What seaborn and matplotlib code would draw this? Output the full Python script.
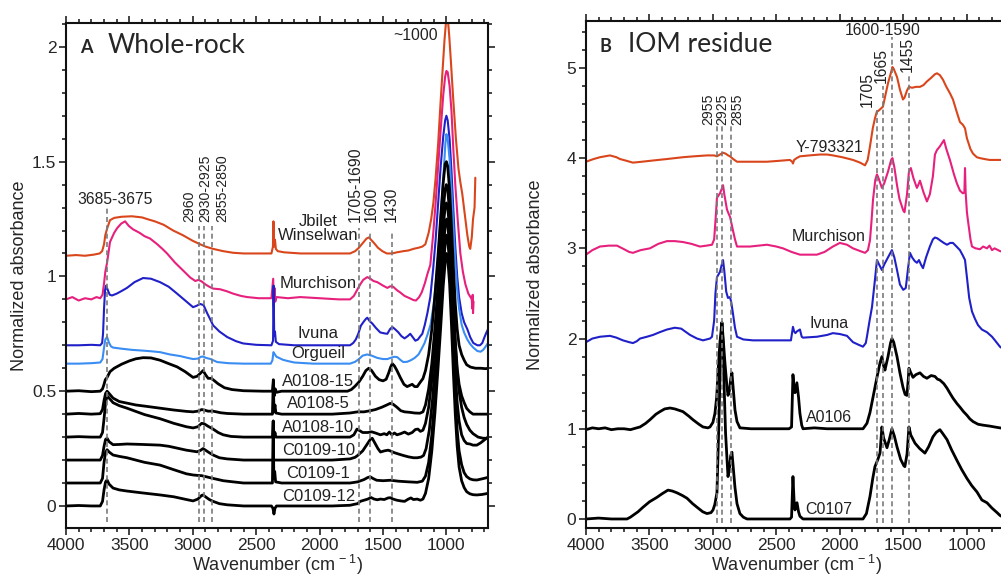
import matplotlib
matplotlib.use("Agg")
import matplotlib.pyplot as plt
from matplotlib import font_manager as fm
import seaborn as sns
import pandas as pd
from matplotlib.ticker import MultipleLocator, FuncFormatter

# ---------------- Panel A: whole-rock spectra (wavenumber cm-1, absorbance) ----------------
jbilet = [(4000,1.09),(3920,1.093),(3850,1.09),(3780,1.095),(3735,1.10),(3715,1.11),(3700,1.14),(3690,1.18),(3675,1.21),(3653,1.245),(3620,1.255),(3560,1.26),(3480,1.262),(3400,1.257),(3361,1.25),(3300,1.24),(3230,1.225),(3155,1.20),(3080,1.18),(3000,1.155),(2942,1.14),(2900,1.13),(2840,1.12),(2760,1.11),(2682,1.103),(2600,1.10),(2500,1.10),(2380,1.10),(2368,1.13),(2364,1.24),(2358,1.13),(2352,1.16),(2345,1.12),(2330,1.11),(2280,1.105),(2150,1.10),(2000,1.10),(1850,1.10),(1760,1.10),(1720,1.11),(1690,1.125),(1660,1.145),(1630,1.165),(1610,1.17),(1595,1.16),(1570,1.145),(1540,1.125),(1505,1.11),(1470,1.10),(1430,1.10),(1390,1.105),(1340,1.11),(1300,1.113),(1260,1.12),(1220,1.125),(1190,1.13),(1166,1.14),(1140,1.19),(1120,1.25),(1103,1.32),(1085,1.43),(1065,1.58),(1048,1.74),(1030,1.90),(1015,2.03),(1000,2.13),(990,2.13),(978,2.05),(965,1.94),(946,1.77),(925,1.60),(905,1.47),(890,1.41),(875,1.36),(855,1.27),(835,1.18),(820,1.13),(812,1.12),(800,1.17),(790,1.25),(778,1.30),(772,1.43)]
murch_a = [(4000,0.90),(3950,0.91),(3900,0.895),(3850,0.905),(3800,0.90),(3760,0.91),(3730,0.905),(3712,0.92),(3700,0.97),(3690,1.02),(3676,1.06),(3653,1.15),(3620,1.19),(3597,1.21),(3565,1.23),(3534,1.24),(3505,1.22),(3471,1.205),(3420,1.19),(3380,1.175),(3337,1.165),(3280,1.14),(3240,1.12),(3203,1.10),(3140,1.06),(3077,1.026),(3020,0.995),(2980,0.98),(2955,0.985),(2930,0.978),(2900,0.965),(2870,0.955),(2840,0.947),(2784,0.944),(2730,0.935),(2682,0.925),(2620,0.915),(2571,0.91),(2480,0.905),(2380,0.905),(2366,0.99),(2362,0.87),(2356,0.95),(2350,0.89),(2340,0.91),(2250,0.905),(2153,0.91),(2000,0.905),(1850,0.90),(1760,0.90),(1730,0.915),(1700,0.945),(1680,0.965),(1656,0.985),(1624,0.997),(1600,0.99),(1575,0.98),(1545,0.975),(1500,0.96),(1466,0.95),(1443,0.957),(1420,0.955),(1390,0.94),(1364,0.93),(1330,0.915),(1290,0.905),(1260,0.897),(1240,0.895),(1215,0.91),(1195,0.93),(1170,0.97),(1150,1.01),(1127,1.05),(1105,1.18),(1085,1.32),(1065,1.48),(1045,1.64),(1025,1.79),(1010,1.87),(1000,1.895),(990,1.89),(975,1.83),(960,1.72),(946,1.56),(930,1.40),(910,1.24),(890,1.10),(870,1.02),(850,0.965),(827,0.925),(810,0.91),(800,0.90),(796,0.86),(793,0.92),(790,0.84),(786,0.89)]
ivuna_a = [(4000,0.70),(3900,0.70),(3800,0.702),(3730,0.70),(3715,0.71),(3708,0.75),(3700,0.86),(3692,0.94),(3684,0.96),(3670,0.94),(3655,0.92),(3637,0.917),(3600,0.925),(3560,0.937),(3519,0.95),(3460,0.975),(3392,0.993),(3330,0.99),(3258,0.975),(3190,0.955),(3124,0.925),(3060,0.895),(2998,0.866),(2970,0.872),(2942,0.88),(2915,0.875),(2887,0.84),(2860,0.81),(2840,0.787),(2790,0.76),(2729,0.736),(2660,0.718),(2603,0.708),(2500,0.702),(2380,0.70),(2367,0.72),(2363,0.96),(2358,0.74),(2352,0.76),(2345,0.715),(2320,0.705),(2200,0.70),(2000,0.70),(1850,0.70),(1760,0.70),(1735,0.71),(1715,0.725),(1695,0.75),(1675,0.785),(1656,0.80),(1635,0.815),(1624,0.82),(1605,0.805),(1585,0.795),(1555,0.775),(1522,0.756),(1490,0.752),(1466,0.75),(1445,0.77),(1427,0.78),(1405,0.77),(1380,0.757),(1355,0.74),(1330,0.73),(1305,0.74),(1285,0.75),(1265,0.735),(1245,0.72),(1225,0.725),(1205,0.74),(1190,0.75),(1170,0.79),(1150,0.84),(1127,0.91),(1105,1.03),(1085,1.16),(1065,1.32),(1045,1.48),(1025,1.61),(1010,1.68),(1000,1.70),(990,1.68),(975,1.60),(960,1.46),(945,1.29),(930,1.13),(915,1.00),(900,0.91),(880,0.84),(860,0.80),(835,0.77),(812,0.735),(788,0.71),(756,0.70),(735,0.70),(717,0.71),(700,0.735),(685,0.755),(672,0.77)]
orgueil = [(4000,0.62),(3900,0.62),(3800,0.622),(3730,0.625),(3712,0.64),(3700,0.69),(3690,0.725),(3676,0.736),(3660,0.71),(3645,0.695),(3629,0.69),(3560,0.685),(3480,0.68),(3400,0.677),(3330,0.674),(3258,0.67),(3180,0.66),(3100,0.653),(3040,0.645),(2998,0.64),(2960,0.642),(2935,0.65),(2919,0.651),(2895,0.645),(2860,0.64),(2840,0.635),(2808,0.627),(2720,0.622),(2600,0.62),(2450,0.62),(2385,0.62),(2372,0.635),(2364,0.67),(2355,0.662),(2340,0.65),(2320,0.645),(2290,0.637),(2256,0.632),(2200,0.625),(2050,0.62),(1900,0.62),(1760,0.62),(1720,0.628),(1690,0.64),(1660,0.655),(1624,0.66),(1590,0.655),(1545,0.645),(1500,0.64),(1466,0.64),(1440,0.645),(1410,0.65),(1387,0.648),(1360,0.635),(1340,0.627),(1310,0.628),(1280,0.635),(1250,0.645),(1220,0.66),(1195,0.685),(1172,0.71),(1150,0.745),(1125,0.79),(1100,0.88),(1080,0.99),(1060,1.13),(1040,1.30),(1020,1.47),(1008,1.58),(1000,1.62),(990,1.60),(975,1.51),(960,1.37),(945,1.21),(930,1.06),(915,0.94),(900,0.86),(880,0.79),(860,0.755),(835,0.725),(812,0.705),(788,0.69),(756,0.675),(730,0.672),(710,0.68),(690,0.695),(672,0.71)]
a0108_15 = [(4000,0.50),(3900,0.502),(3800,0.498),(3730,0.50),(3712,0.51),(3700,0.53),(3690,0.55),(3676,0.56),(3653,0.585),(3620,0.60),(3560,0.618),(3500,0.632),(3450,0.641),(3392,0.646),(3330,0.645),(3258,0.635),(3190,0.62),(3124,0.606),(3060,0.585),(2998,0.56),(2966,0.565),(2940,0.578),(2919,0.59),(2900,0.572),(2879,0.556),(2855,0.556),(2840,0.55),(2800,0.532),(2750,0.515),(2690,0.507),(2600,0.502),(2450,0.50),(2372,0.50),(2365,0.54),(2358,0.48),(2350,0.51),(2340,0.495),(2300,0.50),(2100,0.50),(1900,0.50),(1780,0.50),(1750,0.507),(1720,0.522),(1690,0.54),(1660,0.565),(1635,0.59),(1612,0.60),(1590,0.59),(1560,0.565),(1530,0.55),(1500,0.545),(1475,0.552),(1455,0.58),(1440,0.605),(1427,0.62),(1410,0.61),(1390,0.59),(1364,0.56),(1335,0.53),(1310,0.52),(1290,0.525),(1270,0.53),(1250,0.52),(1230,0.52),(1205,0.54),(1185,0.555),(1165,0.59),(1140,0.66),(1115,0.77),(1090,0.92),(1065,1.10),(1045,1.26),(1025,1.41),(1010,1.49),(1000,1.50),(990,1.48),(975,1.38),(960,1.22),(945,1.04),(930,0.88),(915,0.77),(900,0.70),(880,0.66),(860,0.635),(840,0.615),(810,0.605),(770,0.60),(730,0.60),(690,0.598),(672,0.60)]
a0108_5 = [(4000,0.40),(3900,0.403),(3800,0.40),(3730,0.402),(3712,0.42),(3700,0.46),(3688,0.49),(3676,0.50),(3660,0.49),(3629,0.47),(3580,0.455),(3519,0.448),(3450,0.44),(3380,0.435),(3258,0.426),(3150,0.418),(3050,0.412),(2998,0.41),(2960,0.413),(2930,0.42),(2910,0.418),(2880,0.413),(2840,0.413),(2780,0.406),(2729,0.403),(2600,0.40),(2450,0.40),(2372,0.40),(2365,0.55),(2360,0.41),(2352,0.44),(2345,0.405),(2300,0.40),(2100,0.40),(1900,0.40),(1760,0.405),(1700,0.41),(1650,0.41),(1600,0.415),(1560,0.42),(1510,0.43),(1470,0.44),(1443,0.447),(1420,0.443),(1390,0.43),(1360,0.415),(1330,0.41),(1290,0.408),(1250,0.405),(1210,0.404),(1185,0.41),(1165,0.44),(1140,0.51),(1115,0.62),(1090,0.78),(1065,0.97),(1045,1.13),(1025,1.29),(1010,1.38),(1000,1.40),(990,1.38),(975,1.28),(960,1.10),(945,0.90),(930,0.72),(915,0.60),(900,0.53),(880,0.48),(860,0.45),(840,0.425),(815,0.41),(790,0.40),(750,0.40),(710,0.40),(672,0.40)]
a0108_10 = [(4000,0.30),(3900,0.302),(3800,0.30),(3730,0.30),(3712,0.32),(3700,0.38),(3688,0.45),(3676,0.48),(3660,0.47),(3629,0.45),(3580,0.437),(3519,0.426),(3450,0.412),(3380,0.398),(3258,0.38),(3150,0.36),(3050,0.345),(2998,0.34),(2960,0.345),(2930,0.36),(2910,0.358),(2879,0.347),(2840,0.335),(2800,0.32),(2760,0.31),(2700,0.303),(2600,0.30),(2450,0.30),(2372,0.30),(2365,0.37),(2360,0.30),(2352,0.32),(2345,0.30),(2300,0.30),(2100,0.30),(1900,0.30),(1760,0.30),(1730,0.31),(1705,0.335),(1690,0.33),(1660,0.32),(1620,0.32),(1590,0.323),(1560,0.318),(1520,0.31),(1490,0.315),(1470,0.31),(1450,0.322),(1430,0.31),(1410,0.318),(1390,0.31),(1360,0.315),(1330,0.322),(1300,0.313),(1270,0.32),(1245,0.333),(1225,0.335),(1205,0.325),(1185,0.33),(1165,0.36),(1140,0.43),(1115,0.55),(1090,0.72),(1065,0.91),(1045,1.07),(1025,1.22),(1010,1.30),(1000,1.32),(990,1.30),(975,1.21),(960,1.05),(945,0.87),(930,0.70),(915,0.58),(900,0.50),(880,0.43),(860,0.385),(840,0.355),(815,0.33),(790,0.315),(750,0.30),(710,0.295),(672,0.295)]
c0109_10 = [(4000,0.20),(3900,0.20),(3800,0.20),(3730,0.20),(3712,0.22),(3700,0.26),(3688,0.29),(3676,0.295),(3660,0.28),(3629,0.267),(3580,0.268),(3519,0.27),(3400,0.268),(3258,0.265),(3190,0.26),(3124,0.252),(3050,0.243),(2966,0.236),(2940,0.242),(2919,0.25),(2900,0.243),(2870,0.232),(2840,0.222),(2790,0.21),(2729,0.205),(2600,0.20),(2450,0.20),(2372,0.20),(2300,0.20),(2100,0.20),(1900,0.20),(1760,0.205),(1720,0.212),(1700,0.22),(1660,0.24),(1630,0.265),(1600,0.29),(1585,0.295),(1565,0.275),(1540,0.25),(1520,0.235),(1490,0.24),(1460,0.243),(1443,0.24),(1410,0.232),(1370,0.225),(1340,0.22),(1300,0.214),(1260,0.21),(1230,0.21),(1200,0.213),(1180,0.22),(1160,0.25),(1135,0.33),(1110,0.46),(1085,0.64),(1060,0.84),(1040,1.00),(1020,1.16),(1005,1.24),(998,1.25),(988,1.22),(975,1.12),(960,0.95),(945,0.76),(930,0.58),(915,0.45),(900,0.37),(880,0.31),(860,0.285),(840,0.272),(815,0.27),(790,0.265),(760,0.265),(730,0.275),(700,0.288),(672,0.30)]
c0109_1 = [(4000,0.10),(3900,0.10),(3800,0.10),(3730,0.10),(3712,0.12),(3700,0.19),(3688,0.235),(3676,0.245),(3660,0.235),(3629,0.222),(3580,0.216),(3519,0.21),(3450,0.20),(3380,0.19),(3258,0.178),(3150,0.158),(3050,0.14),(2998,0.135),(2960,0.133),(2930,0.132),(2900,0.128),(2840,0.12),(2760,0.11),(2682,0.105),(2600,0.10),(2450,0.10),(2372,0.10),(2366,0.37),(2361,0.12),(2354,0.15),(2347,0.105),(2300,0.10),(2100,0.10),(1900,0.10),(1760,0.10),(1700,0.105),(1650,0.115),(1620,0.124),(1600,0.127),(1580,0.12),(1550,0.112),(1500,0.11),(1440,0.112),(1380,0.108),(1300,0.105),(1230,0.103),(1190,0.108),(1165,0.13),(1140,0.19),(1115,0.31),(1090,0.48),(1065,0.68),(1045,0.86),(1025,1.04),(1010,1.14),(1000,1.18),(990,1.16),(975,1.06),(960,0.88),(945,0.66),(930,0.47),(915,0.33),(900,0.24),(880,0.18),(860,0.145),(840,0.128),(815,0.118),(790,0.114),(760,0.113),(720,0.118),(690,0.122),(672,0.125)]
c0109_12 = [(4000,0.0),(3900,0.002),(3800,0.0),(3730,0.0),(3712,0.02),(3700,0.07),(3688,0.105),(3676,0.113),(3660,0.095),(3629,0.078),(3580,0.07),(3519,0.065),(3400,0.057),(3258,0.048),(3150,0.04),(3050,0.028),(2998,0.022),(2960,0.03),(2930,0.046),(2919,0.048),(2900,0.04),(2870,0.028),(2840,0.02),(2790,0.01),(2729,0.005),(2600,0.0),(2450,0.0),(2380,0.0),(2368,-0.01),(2360,-0.035),(2352,-0.01),(2340,0.0),(2100,0.0),(1900,0.0),(1760,0.003),(1720,0.008),(1700,0.01),(1680,0.02),(1650,0.025),(1620,0.03),(1595,0.037),(1570,0.03),(1545,0.027),(1520,0.03),(1490,0.028),(1460,0.035),(1443,0.036),(1420,0.03),(1390,0.025),(1360,0.022),(1330,0.02),(1300,0.03),(1280,0.035),(1260,0.028),(1230,0.03),(1205,0.025),(1185,0.03),(1165,0.055),(1140,0.12),(1115,0.24),(1090,0.41),(1065,0.61),(1045,0.78),(1025,0.96),(1010,1.06),(1000,1.10),(990,1.08),(975,0.97),(960,0.79),(945,0.58),(930,0.40),(915,0.26),(900,0.17),(880,0.11),(860,0.08),(840,0.062),(815,0.053),(790,0.049),(760,0.048),(720,0.05),(690,0.053),(672,0.055)]

# ---------------- Panel B: IOM residue spectra ----------------
y793321 = [(4000,3.96),(3940,3.99),(3890,4.01),(3811,4.03),(3760,4.01),(3732,3.99),(3680,3.97),(3630,3.95),(3560,3.96),(3496,3.97),(3430,3.98),(3362,3.99),(3300,4.0),(3236,4.01),(3150,4.02),(3047,4.03),(2990,4.03),(2968,4.02),(2944,4.04),(2920,4.06),(2900,4.05),(2880,4.03),(2865,4.02),(2840,3.99),(2810,3.96),(2740,3.96),(2660,3.96),(2574,3.96),(2480,3.97),(2393,3.98),(2375,3.96),(2369,3.94),(2360,3.98),(2340,4.0),(2314,4.02),(2240,4.03),(2156,4.04),(2100,4.04),(2054,4.03),(1980,4.01),(1896,3.98),(1840,3.95),(1801,3.92),(1780,3.98),(1762,4.13),(1740,4.33),(1723,4.44),(1707,4.52),(1699,4.52),(1683,4.54),(1660,4.57),(1640,4.70),(1620,4.83),(1600,4.93),(1585,5.01),(1575,4.99),(1549,4.90),(1526,4.76),(1502,4.65),(1490,4.67),(1470,4.75),(1455,4.79),(1430,4.78),(1400,4.79),(1368,4.79),(1340,4.81),(1313,4.85),(1280,4.89),(1250,4.93),(1234,4.94),(1211,4.92),(1187,4.87),(1160,4.79),(1132,4.72),(1108,4.65),(1080,4.52),(1053,4.40),(1030,4.37),(1013,4.33),(998,4.22),(970,4.10),(950,4.05),(920,4.01),(895,4.00),(860,3.99),(820,3.98),(780,3.98),(738,3.98),(690,3.98)]
murch_b = [(4000,2.93),(3950,2.98),(3890,3.02),(3820,3.03),(3756,3.03),(3700,2.99),(3660,2.96),(3630,2.95),(3570,2.98),(3496,3.0),(3430,3.05),(3362,3.08),(3300,3.08),(3236,3.07),(3170,3.05),(3102,3.02),(3050,3.03),(3007,3.04),(2990,3.10),(2975,3.40),(2968,3.56),(2944,3.61),(2930,3.66),(2920,3.70),(2910,3.60),(2889,3.43),(2875,3.38),(2865,3.35),(2842,3.20),(2826,3.10),(2810,3.02),(2760,3.02),(2708,3.02),(2640,3.03),(2574,3.04),(2500,3.02),(2448,3.0),(2380,2.96),(2314,2.93),(2250,2.93),(2180,2.93),(2120,2.96),(2054,3.02),(2000,3.06),(1943,3.04),(1896,3.0),(1840,2.97),(1801,2.95),(1778,2.98),(1762,3.09),(1750,3.3),(1738,3.54),(1720,3.76),(1707,3.82),(1695,3.78),(1668,3.67),(1650,3.72),(1620,3.85),(1595,3.98),(1585,4.0),(1570,3.90),(1549,3.70),(1530,3.55),(1500,3.42),(1490,3.40),(1470,3.60),(1455,3.85),(1440,3.89),(1420,3.78),(1400,3.70),(1392,3.67),(1376,3.72),(1368,3.75),(1340,3.62),(1313,3.52),(1290,3.60),(1266,3.80),(1250,4.04),(1234,4.09),(1211,4.13),(1179,4.20),(1160,4.10),(1132,3.98),(1100,3.82),(1077,3.72),(1053,3.64),(1030,3.61),(1018,3.62),(1013,3.89),(1008,3.62),(998,3.40),(990,3.31),(970,3.10),(958,3.02),(930,3.00),(895,2.99),(870,3.02),(840,3.0),(820,3.03),(800,2.98),(780,3.0),(738,2.97),(690,2.95)]
ivuna_b = [(4000,1.96),(3950,2.0),(3890,2.02),(3811,2.03),(3760,2.01),(3709,1.98),(3660,1.96),(3630,1.95),(3600,1.97),(3574,2.0),(3520,2.02),(3472,2.04),(3420,2.07),(3362,2.10),(3300,2.12),(3250,2.11),(3180,2.04),(3125,2.0),(3078,1.98),(3023,2.0),(3007,2.02),(2990,2.2),(2980,2.5),(2968,2.68),(2944,2.74),(2930,2.82),(2920,2.87),(2910,2.75),(2895,2.52),(2881,2.45),(2865,2.46),(2855,2.40),(2842,2.28),(2826,2.12),(2810,2.02),(2760,1.99),(2684,1.98),(2574,1.98),(2448,1.98),(2385,1.98),(2369,2.13),(2360,2.08),(2350,2.06),(2337,2.08),(2314,2.10),(2300,2.02),(2290,2.01),(2180,2.02),(2100,2.04),(2054,2.06),(1999,2.05),(1943,2.03),(1896,1.96),(1850,1.93),(1817,1.91),(1795,1.95),(1786,2.02),(1765,2.20),(1746,2.35),(1723,2.65),(1707,2.87),(1690,2.82),(1668,2.76),(1650,2.82),(1620,2.90),(1589,2.98),(1570,2.90),(1549,2.76),(1526,2.60),(1500,2.54),(1480,2.56),(1460,2.80),(1447,2.95),(1430,2.90),(1410,2.86),(1392,2.84),(1376,2.87),(1360,2.82),(1344,2.78),(1320,2.90),(1290,3.02),(1266,3.10),(1250,3.12),(1230,3.11),(1211,3.09),(1180,3.06),(1155,3.04),(1130,3.06),(1108,3.06),(1080,3.02),(1053,2.98),(1030,2.92),(1013,2.87),(998,2.68),(980,2.45),(958,2.30),(935,2.22),(911,2.15),(880,2.10),(840,2.07),(800,2.02),(777,1.98),(738,1.91),(690,1.86)]
a0106 = [(4000,0.99),(3950,1.01),(3900,1.0),(3850,1.01),(3800,0.99),(3750,1.0),(3700,1.0),(3650,0.99),(3600,1.01),(3574,1.02),(3530,1.06),(3496,1.10),(3450,1.16),(3417,1.19),(3380,1.22),(3338,1.23),(3300,1.22),(3236,1.19),(3190,1.14),(3157,1.10),(3110,1.05),(3078,1.02),(3040,1.01),(3023,1.02),(3000,1.07),(2984,1.17),(2970,1.35),(2960,1.62),(2945,1.95),(2929,2.18),(2920,2.02),(2905,1.73),(2890,1.48),(2881,1.37),(2870,1.42),(2860,1.55),(2850,1.62),(2840,1.45),(2826,1.21),(2810,1.08),(2787,1.01),(2700,1.0),(2600,1.0),(2500,1.0),(2400,1.0),(2380,1.02),(2369,1.60),(2360,1.45),(2353,1.40),(2338,1.51),(2325,1.35),(2314,1.17),(2300,1.04),(2290,1.0),(2200,1.01),(2100,1.0),(2000,1.0),(1900,1.0),(1817,1.0),(1786,1.06),(1762,1.18),(1738,1.35),(1710,1.55),(1683,1.73),(1668,1.80),(1655,1.70),(1644,1.65),(1620,1.80),(1600,1.95),(1589,2.0),(1575,1.96),(1549,1.80),(1526,1.62),(1502,1.46),(1485,1.38),(1471,1.37),(1460,1.55),(1455,1.67),(1440,1.62),(1423,1.57),(1400,1.60),(1368,1.62),(1340,1.58),(1313,1.56),(1280,1.59),(1250,1.58),(1230,1.55),(1211,1.54),(1180,1.50),(1155,1.45),(1130,1.39),(1108,1.34),(1077,1.28),(1053,1.24),(1025,1.19),(998,1.15),(975,1.11),(950,1.08),(910,1.05),(871,1.04),(820,1.03),(780,1.02),(738,1.01),(690,1.0)]
c0107 = [(4000,0.0),(3900,0.01),(3800,0.0),(3700,0.0),(3677,0.0),(3650,0.02),(3630,0.04),(3590,0.08),(3551,0.13),(3500,0.19),(3441,0.24),(3400,0.28),(3354,0.32),(3320,0.31),(3283,0.29),(3240,0.26),(3204,0.23),(3160,0.17),(3125,0.13),(3080,0.08),(3047,0.06),(3015,0.07),(2999,0.10),(2985,0.16),(2968,0.29),(2952,1.10),(2940,1.80),(2929,2.17),(2920,1.95),(2913,1.54),(2900,0.95),(2881,0.47),(2870,0.55),(2860,0.70),(2850,0.74),(2840,0.58),(2826,0.35),(2810,0.17),(2787,0.06),(2760,0.02),(2731,0.0),(2600,0.0),(2500,0.0),(2393,0.0),(2380,0.02),(2369,0.47),(2360,0.2),(2353,0.10),(2345,0.17),(2337,0.18),(2325,0.08),(2314,0.03),(2290,0.0),(2100,0.0),(1900,0.0),(1817,0.0),(1790,0.06),(1762,0.25),(1740,0.45),(1723,0.58),(1700,0.66),(1683,0.73),(1668,1.02),(1655,0.90),(1628,0.79),(1610,0.88),(1589,1.0),(1570,0.92),(1549,0.80),(1520,0.66),(1495,0.59),(1487,0.58),(1470,0.72),(1455,1.02),(1440,0.93),(1407,0.84),(1370,0.78),(1329,0.73),(1300,0.80),(1266,0.91),(1240,0.96),(1211,0.99),(1190,0.95),(1155,0.88),(1120,0.77),(1077,0.65),(1040,0.55),(998,0.45),(960,0.37),(919,0.30),(880,0.21),(840,0.18),(800,0.12),(760,0.07),(738,0.04),(690,0.0)]

# series labels / label positions (absorbance)
labels_a = ["Jbilet\nWinselwan", "Murchison", "Ivuna", "Orgueil", "A0108-15", "A0108-5",
            "A0108-10", "C0109-10", "C0109-1", "C0109-12"]
label_y_a = [1.21, 0.97, 0.75, 0.665, 0.543, 0.448, 0.343, 0.243, 0.143, 0.043]
labels_b = ["Y-793321", "Murchison", "Ivuna", "A0106", "C0107"]
label_y_b = [4.12, 3.13, 2.17, 1.12, 0.10]

# band markers
bands_a = [3680, 2955, 2915, 2850, 1690, 1600, 1430]
band_top_a = [1.30, 1.22, 1.22, 1.22, 1.21, 1.20, 1.20]
bands_b = [2965, 2925, 2857, 1705, 1662, 1590, 1455]
band_top_b = [4.36, 4.36, 4.36, 4.53, 4.80, 5.34, 4.92]

ORANGE = "#d9461c"
PINK = "#e6207c"
BLUE = "#2020c8"
LBLUE = "#3a8df2"
BLACK = "#000000"

sns.set_theme(style="ticks")
_names = {f.name for f in fm.fontManager.ttflist}
BASE = next(n for n in ["Liberation Sans", "Arial", "Noto Sans", "DejaVu Sans"] if n in _names)
TITLE = "Lato" if "Lato" in _names else BASE
plt.rcParams["font.family"] = [BASE, "DejaVu Sans"]
plt.rcParams["mathtext.default"] = "regular"

fig = plt.figure(figsize=(10.01, 5.76), dpi=100)
axA = fig.add_axes([66/1001, 48/576, 422/1001, 505/576])
axB = fig.add_axes([586/1001, 48/576, 420/1001, 507/576])


def draw(ax, pts, color, lw):
    df = pd.DataFrame(pts, columns=["wn", "a"])
    sns.lineplot(data=df, x="wn", y="a", ax=ax, color=color, lw=lw,
                 estimator=None, sort=False, zorder=2)


series_a = [(jbilet, ORANGE), (murch_a, PINK), (ivuna_a, BLUE), (orgueil, LBLUE),
            (a0108_15, BLACK), (a0108_5, BLACK), (a0108_10, BLACK),
            (c0109_10, BLACK), (c0109_1, BLACK), (c0109_12, BLACK)]
for pts, col in series_a:
    draw(axA, pts, col, 2.0 if col == BLACK else 1.5)

series_b = [(y793321, ORANGE), (murch_b, PINK), (ivuna_b, BLUE), (a0106, BLACK), (c0107, BLACK)]
for pts, col in series_b:
    draw(axB, pts, col, 2.0 if col == BLACK else 1.5)

dash = dict(color="#7a7a7a", lw=1.2, ls=(0, (3, 2)), zorder=3)
for b, t in zip(bands_a, band_top_a):
    axA.plot([b, b], [-0.07, t], **dash)
for b, t in zip(bands_b, band_top_b):
    axB.plot([b, b], [-0.05, t], **dash)

# sample labels
for lab, y in zip(labels_a, label_y_a):
    axA.text(2010, y, lab, ha="center", va="center", fontsize=12, color="#222222",
             linespacing=0.95, zorder=4)
for lab, y in zip(labels_b, label_y_b):
    axB.text(2085, y, lab, ha="center", va="center", fontsize=11.5, color="#222222", zorder=4)

# band labels panel A
lbl = dict(fontsize=11.3, color="#222222")
lbl_small = dict(fontsize=10.2, color="#222222")
axA.text(3614, 1.335, "3685-3675", ha="center", va="center", **lbl)
for x, s in [(3028, "2960"), (2898, "2930-2925"), (2768, "2855-2850")]:
    axA.text(x, 1.235, s, rotation=90, ha="center", va="bottom", **lbl_small)
for x, s in [(1721, "1705-1690"), (1589, "1600"), (1432, "1430")]:
    axA.text(x, 1.235, s, rotation=90, ha="center", va="bottom", **lbl)
axA.text(1070, 2.05, "~1000", ha="right", va="center", **lbl)

# band labels panel B
for x, s in [(3040, "2955"), (2928, "2925"), (2810, "2855")]:
    axB.text(x, 4.37, s, rotation=90, ha="center", va="bottom", **lbl_small)
axB.text(1786, 4.57, "1705", rotation=90, ha="center", va="bottom", **lbl)
axB.text(1676, 4.83, "1665", rotation=90, ha="center", va="bottom", **lbl)
axB.text(1470, 4.96, "1455", rotation=90, ha="center", va="bottom", **lbl)
axB.text(1660, 5.41, "1600-1590", ha="center", va="center", **lbl)

# panel titles
axA.text(0.033, 0.94, "A", transform=axA.transAxes, fontsize=13, fontweight="bold",
         family=TITLE, va="baseline")
axA.text(0.0995, 0.94, "Whole-rock", transform=axA.transAxes, fontsize=19,
         family=TITLE, va="baseline")
axB.text(0.033, 0.939, "B", transform=axB.transAxes, fontsize=13, fontweight="bold",
         family=TITLE, va="baseline")
axB.text(0.10, 0.939, "IOM residue", transform=axB.transAxes, fontsize=19,
         family=TITLE, va="baseline")

fmt = FuncFormatter(lambda v, p: f"{v:g}")
for ax, ylim, ymaj, ymin, xlim in [(axA, (-0.096, 2.104), 0.5, 0.1, (4000, 672)),
                                    (axB, (-0.1, 5.52), 1, 0.2, (4000, 690))]:
    ax.set_xlim(*xlim)
    ax.set_ylim(*ylim)
    ax.xaxis.set_major_locator(MultipleLocator(500))
    ax.xaxis.set_minor_locator(MultipleLocator(100))
    ax.yaxis.set_major_locator(MultipleLocator(ymaj))
    ax.yaxis.set_minor_locator(MultipleLocator(ymin))
    ax.yaxis.set_major_formatter(fmt)
    ax.tick_params(which="both", direction="out", top=True, right=True, width=1.1,
                   color="#111111")
    ax.tick_params(which="major", length=5, labelsize=12.5, pad=2)
    ax.tick_params(which="minor", length=3)
    for s in ax.spines.values():
        s.set_linewidth(1.5)
        s.set_visible(True)
        s.set_color("#111111")
    ax.set_xlabel("Wavenumber (cm$^{\\,-1}$)", fontsize=13)
    ax.set_ylabel("Normalized absorbance", fontsize=13)
    ax.xaxis.set_label_coords(0.5, -0.05)

axA.yaxis.set_label_coords(-0.09, 0.5)
axB.yaxis.set_label_coords(-0.10, 0.5)

fig.savefig("out.png", dpi=100)
